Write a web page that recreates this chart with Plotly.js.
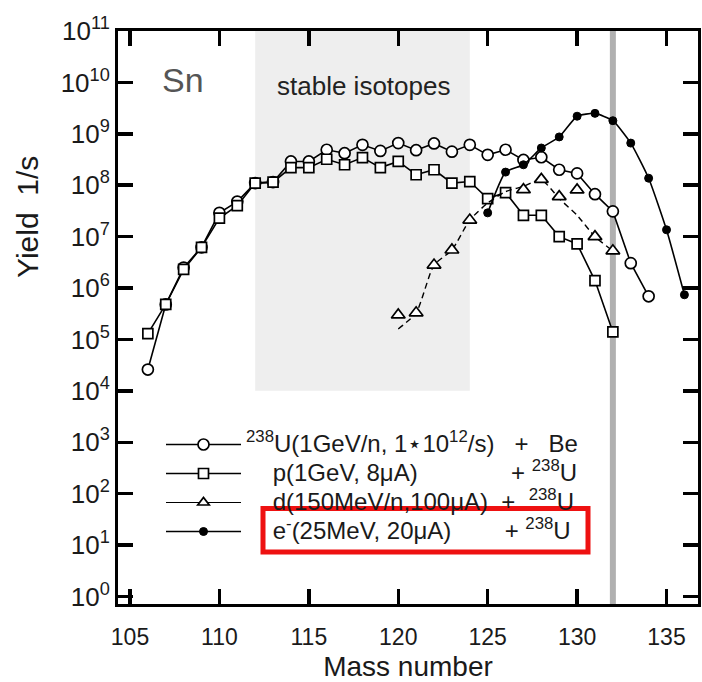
<!DOCTYPE html>
<html>
<head>
<meta charset="utf-8">
<script src="https://cdn.plot.ly/plotly-3.0.1.min.js"></script>
<style>
  html, body { margin: 0; padding: 0; background: #ffffff; }
  #chart { width: 702px; height: 682px; }
</style>
</head>
<body>
<div id="chart"></div>
<script>
// Sn isotope yields (1/s) versus mass number for four production routes.
const massU = [106, 107, 108, 109, 110, 111, 112, 113, 114, 115, 116, 117, 118, 119, 120,
               121, 122, 123, 124, 125, 126, 127, 128, 129, 130, 131, 132, 133, 134];
const yieldU = [2.6e4, 4.8e5, 2.5e6, 6.2e6, 2.9e7, 4.8e7, 1.1e8, 1.15e8, 2.9e8, 2.9e8, 4.9e8, 4.2e8,
                6.1e8, 4.65e8, 6.6e8, 4.8e8, 6.5e8, 4.5e8, 6.1e8, 3.9e8, 4.9e8, 3.1e8, 3.5e8,
                2.0e8, 1.7e8, 6.7e7, 3.1e7, 3.05e6, 6.9e5];

const massP = [106, 107, 108, 109, 110, 111, 112, 113, 114, 115, 116, 117, 118, 119, 120,
               121, 122, 123, 124, 125, 126, 127, 128, 129, 130, 131, 132];
const yieldP = [1.3e5, 4.8e5, 2.3e6, 6.2e6, 2.3e7, 4.0e7, 1.1e8, 1.15e8, 2.2e8, 2.2e8, 3.2e8, 2.5e8,
                3.45e8, 2.2e8, 2.9e8, 1.6e8, 2.0e8, 1.1e8, 1.18e8, 5.5e7, 7.2e7, 2.6e7, 2.6e7,
                1.0e7, 7.2e6, 1.4e6, 1.4e5];

const massD = [120, 121, 122, 123, 124, 127, 128, 129, 130, 131, 132];
const yieldD = [3.0e5, 3.3e5, 2.8e6, 5.5e6, 2.1e7, 8.2e7, 1.3e8, 6.0e7, 8.1e7, 1.0e7, 5.3e6];
// smooth trend drawn through the deuteron points
const massDFit = [120, 121, 122, 123, 124, 125, 126, 127, 128, 129, 130, 131, 132];
const yieldDFit = [1.6e5, 3.3e5, 2.8e6, 5.5e6, 2.1e7, 4.5e7, 7.5e7, 9.5e7, 1.27e8, 5.5e7, 2.6e7, 1.0e7, 5.3e6];

const massE = [125, 126, 127, 128, 129, 130, 131, 132, 133, 134, 135, 136];
const yieldE = [2.9e7, 1.8e8, 2.5e8, 5.3e8, 8.7e8, 2.2e9, 2.5e9, 1.8e9, 6.6e8, 1.37e8, 1.36e7, 7.4e5];

const NB = n => '\u00a0'.repeat(n);
const big = s => '<span style="font-size:24px">' + s + '</span>';
const seriesNames = [
  big('<sup>238</sup>U(1GeV/n, 1\u22c610<sup>12</sup>/s)' + NB(3) + '+' + NB(3) + 'Be'),
  big(NB(4) + 'p(1GeV, 8\u03bcA)' + NB(14) + '+' + NB(1) + '<sup>238</sup>U'),
  big(NB(4) + 'd(150MeV/n,100\u03bcA)' + NB(2) + '+' + NB(2) + '<sup>238</sup>U'),
  big(NB(4) + 'e<sup>-</sup>(25MeV, 20\u03bcA)' + NB(8) + '+' + NB(1) + '<sup>238</sup>U')
];

const xTickVals = [105, 110, 115, 120, 125, 130, 135];
const yTickVals = [1, 1e1, 1e2, 1e3, 1e4, 1e5, 1e6, 1e7, 1e8, 1e9, 1e10, 1e11];
const yTickText = ['0', '1', '2', '3', '4', '5', '6', '7', '8', '9', '10', '11']
  .map(p => '10<sup>' + p + '</sup>');

const stableRange = [112, 124];
const stableFloor = 1e4;
const closedShell = 132;

// plot-area geometry in pixels
const W = 702, H = 682;
const M = { l: 118, r: 4, t: 31, b: 78 };
const plotW = W - M.l - M.r, plotH = H - M.t - M.b;
const px = x => (x - M.l) / plotW;
const py = y => (H - M.b - y) / plotH;

const FONT = 'Liberation Sans, Arial, sans-serif';
const INK = '#1a1a1a';
const lineStyle = { color: '#000', width: 1.6 };
const openMarker = (symbol, size) =>
  ({ symbol: symbol, size: size, color: '#fff', line: { color: '#000', width: 1.7 } });

const traces = [
  {
    x: massU, y: yieldU, name: seriesNames[0], type: 'scatter', mode: 'lines+markers',
    line: lineStyle, marker: openMarker('circle', 11)
  },
  {
    x: massP, y: yieldP, name: seriesNames[1], type: 'scatter', mode: 'lines+markers',
    line: lineStyle, marker: openMarker('square', 10)
  },
  {
    x: massDFit, y: yieldDFit, name: 'd fit', type: 'scatter', mode: 'lines', showlegend: false,
    line: { color: '#000', width: 1.4, dash: '6px,4px', shape: 'spline', smoothing: 0.6 },
    hoverinfo: 'skip'
  },
  {
    x: massD, y: yieldD, name: 'd points', type: 'scatter', mode: 'markers', showlegend: false,
    marker: openMarker('triangle-up', 12)
  },
  // legend key for the deuteron series (line with triangle symbol), no plotted points
  {
    x: [null], y: [null], name: seriesNames[2], type: 'scatter', mode: 'lines+markers',
    line: { color: '#000', width: 1.2 }, marker: openMarker('triangle-up', 10),
    hoverinfo: 'skip'
  },
  {
    x: massE, y: yieldE, name: seriesNames[3], type: 'scatter', mode: 'lines+markers',
    line: { color: '#000', width: 1.6, shape: 'spline', smoothing: 0.5 },
    marker: { symbol: 'circle', size: 8, color: '#000', line: { color: '#000', width: 1 } }
  }
];

const layout = {
  width: W, height: H,
  margin: M,
  paper_bgcolor: '#fff', plot_bgcolor: '#fff',
  font: { family: FONT, color: INK, size: 22 },
  showlegend: true,
  legend: {
    x: px(161), y: py(425), xanchor: 'left', yanchor: 'top',
    bgcolor: 'rgba(0,0,0,0)', borderwidth: 0,
    font: { family: FONT, size: 20, color: INK },
    itemwidth: 75, tracegroupgap: 0
  },
  xaxis: {
    range: [104.33, 136.76], showgrid: false, zeroline: false,
    tickvals: xTickVals, ticks: 'inside', ticklen: 15, tickwidth: 3.5, tickcolor: '#000',
    showline: true, linecolor: '#000', linewidth: 3, mirror: 'ticks',
    ticklabelstandoff: 10,
    tickfont: { family: FONT, size: 23, color: INK },
    title: { text: 'Mass number', font: { family: FONT, size: 28, color: INK }, standoff: 8 }
  },
  yaxis: {
    type: 'log', range: [-0.146, 11.0], showgrid: false, zeroline: false,
    tickvals: yTickVals, ticktext: yTickText,
    ticks: 'inside', ticklen: 15, tickwidth: 3.5, tickcolor: '#000',
    showline: true, linecolor: '#000', linewidth: 3, mirror: 'ticks',
    tickfont: { family: FONT, size: 26, color: INK }
  },
  shapes: [
    {
      type: 'rect', xref: 'x', yref: 'y', layer: 'below',
      x0: stableRange[0], x1: stableRange[1], y0: stableFloor, y1: 1e11,
      fillcolor: '#eeeeee', line: { width: 0 }
    },
    {
      type: 'line', xref: 'x', yref: 'paper', layer: 'below',
      x0: closedShell, x1: closedShell, y0: 0, y1: 1,
      line: { color: '#b0b0b0', width: 6 }
    },
    {
      type: 'rect', xref: 'paper', yref: 'paper',
      x0: px(263), x1: px(588), y0: py(552), y1: py(508.5),
      line: { color: '#ee1111', width: 5 }, fillcolor: 'rgba(0,0,0,0)'
    }
  ],
  annotations: [
    {
      text: 'Yield' + NB(2) + '1/s', xref: 'paper', yref: 'paper', x: px(27), y: py(217),
      xanchor: 'center', yanchor: 'middle',
      textangle: -90, showarrow: false, font: { family: FONT, size: 30, color: INK }
    },
    {
      text: 'Sn', xref: 'paper', yref: 'paper', x: px(183), y: py(80),
      xanchor: 'center', yanchor: 'middle',
      showarrow: false, font: { family: FONT, size: 34, color: '#555' }
    },
    {
      text: 'stable isotopes', xref: 'paper', yref: 'paper', x: px(363), y: py(86),
      xanchor: 'center', yanchor: 'middle',
      showarrow: false, font: { family: FONT, size: 26, color: '#222' }
    }
  ]
};

Plotly.newPlot('chart', traces, layout, { displayModeBar: false, staticPlot: true });
</script>
</body>
</html>
